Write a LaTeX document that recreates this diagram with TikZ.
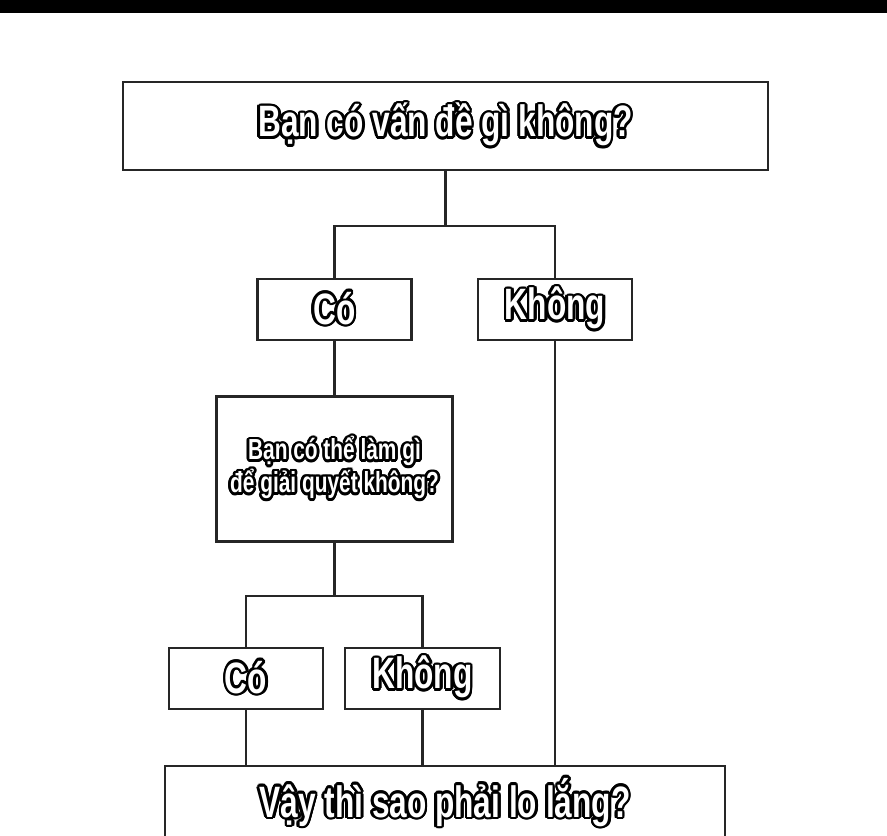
\documentclass[tikz,border=0pt]{standalone}
\usepackage{fontspec}
\usepackage{contour}
\setmainfont{Liberation Sans}[FakeStretch=0.72]
\usetikzlibrary{positioning,calc}
\contourlength{1.5pt}
\newcommand{\memetext}[1]{\contour{black}{\textcolor{white}{#1}}}

\begin{document}
\begin{tikzpicture}[
    x=0.02cm, y=-0.02cm,
    box/.style={rectangle, draw=black!85, line width=1.2pt, fill=white, align=center, inner sep=0pt},
    bigtext/.style={font=\bfseries\fontsize{25}{28}\selectfont},
    smalltext/.style={font=\bfseries\fontsize{16.5}{18.7}\selectfont},
    link/.style={draw=black!85, line width=1.2pt}
]
\useasboundingbox (0,0) rectangle (887,836);
\clip (0,0) rectangle (887,836);
\fill[black] (0,0) rectangle (887,13);

% Question
\node[box, bigtext, minimum width=12.9cm, minimum height=1.76cm] (problem) at (445.5,126) {\memetext{Bạn có vấn đề gì không?}};

% First answers
\node[box, bigtext, minimum width=3.08cm, minimum height=1.22cm] (yesA) at (334.5,309.5) {\memetext{Có}};
\node[box, bigtext, minimum width=3.08cm, minimum height=1.22cm] (noA) at (555,309.5) {\memetext{Không}};

% Second question
\node[box, smalltext, minimum width=4.72cm, minimum height=2.9cm] (fix) at (334.5,469) {\memetext{Bạn có thể làm gì}\\\memetext{để giải quyết không?}};

% Second answers
\node[box, bigtext, minimum width=3.08cm, minimum height=1.22cm] (yesB) at (246,678.5) {\memetext{Có}};
\node[box, bigtext, minimum width=3.1cm, minimum height=1.22cm] (noB) at (422.5,678.5) {\memetext{Không}};

% Conclusion
\node[box, bigtext, minimum width=11.2cm, minimum height=1.5cm] (worry) at (445,803.5) {\memetext{Vậy thì sao phải lo lắng?}};

% Links
\coordinate (splitA) at (445.5,226);
\coordinate (splitB) at (334.5,596);
\draw[link] (problem.south) -- (splitA);
\draw[link] (splitA) -| (yesA.north);
\draw[link] (splitA) -| (noA.north);
\draw[link] (yesA.south) -- (fix.north);
\draw[link] (fix.south) -- (splitB);
\draw[link] (splitB) -| (yesB.north);
\draw[link] (splitB) -| (noB.north);
\draw[link] (yesB.south) -- (yesB.south |- worry.north);
\draw[link] (noB.south) -- (noB.south |- worry.north);
\draw[link] (noA.south) -- (noA.south |- worry.north);

\end{tikzpicture}
\end{document}
